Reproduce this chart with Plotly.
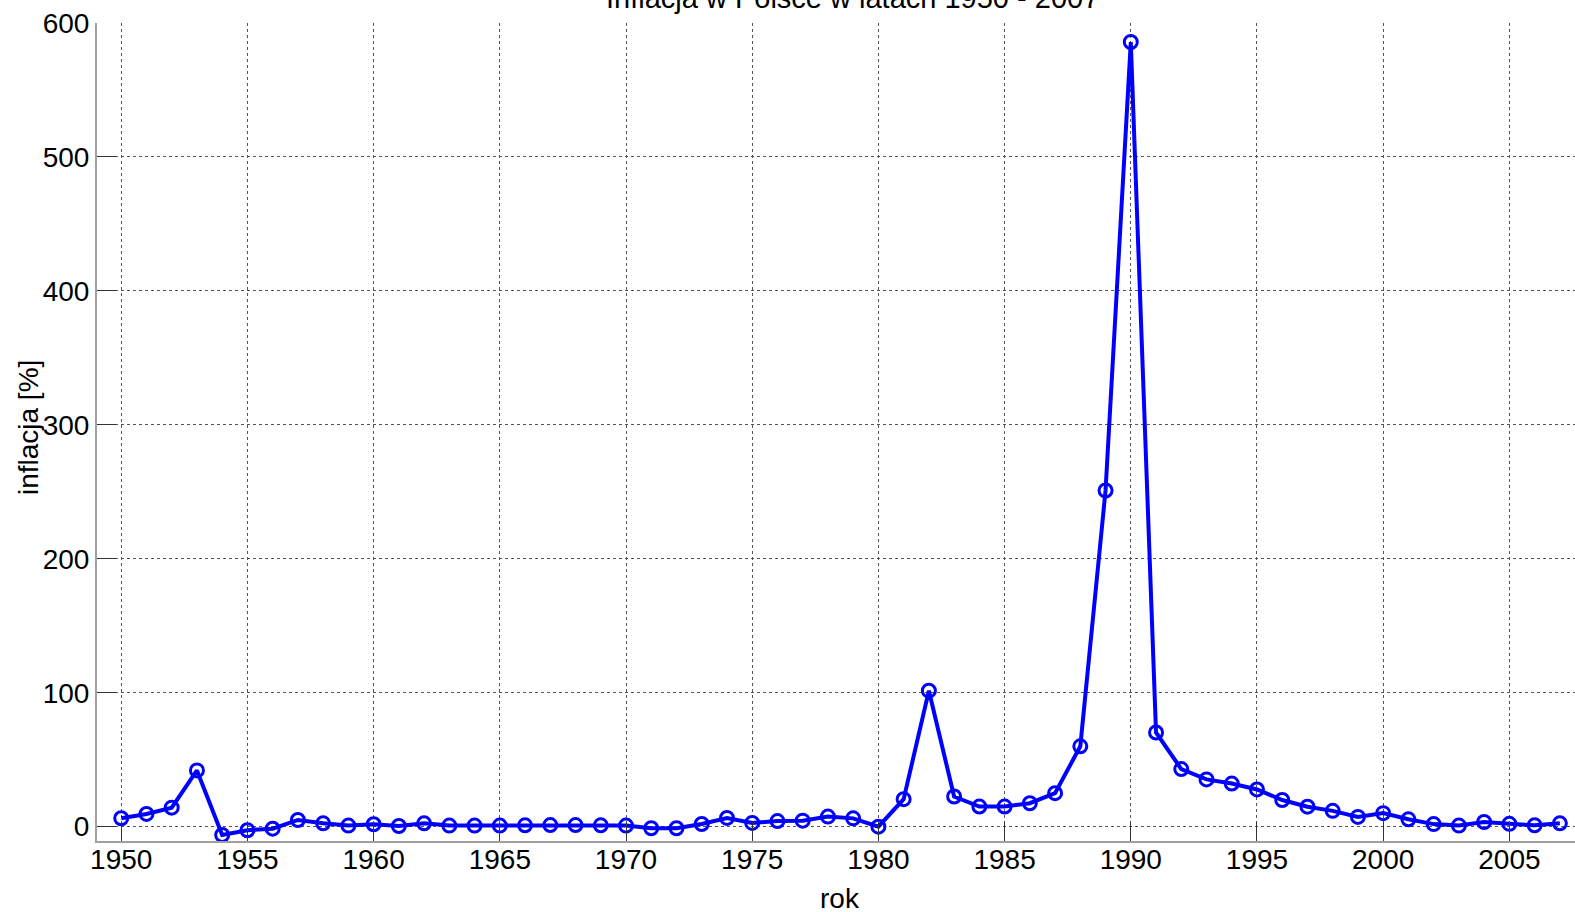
import plotly.graph_objects as go

years = list(range(1950, 2008))
inflation = [
    6.3, 9.5, 14.2, 42.0, -6.2, -2.7, -1.5, 5.0, 2.5, 0.8,
    1.8, 0.5, 2.5, 0.8, 0.8, 0.8, 1.0, 1.2, 1.2, 1.0,
    0.8, -1.2, -1.2, 2.0, 6.5, 2.8, 4.2, 4.5, 7.5, 6.2,
    0.0, 20.5, 101.5, 22.5, 15.0, 15.0, 17.5, 25.0, 60.0, 251.0,
    585.8, 70.3, 43.0, 35.3, 32.2, 27.8, 19.9, 14.9, 11.8, 7.3,
    10.1, 5.5, 1.9, 0.8, 3.5, 2.1, 1.0, 2.5,
]

title_text = "Inflacja w Polsce w latach 1950 - 2007"
x_label = "rok"
y_label = "inflacja [%]"
x_ticks = list(range(1950, 2010, 5))
y_ticks = [0, 100, 200, 300, 400, 500, 600]

fig = go.Figure()
fig.add_trace(go.Scatter(
    x=years, y=inflation, mode="lines+markers",
    line=dict(color="#0000ff", width=4),
    marker=dict(symbol="circle-open", size=13, color="#0000ff",
                line=dict(color="#0000ff", width=3)),
    showlegend=False,
))

font_family = "Liberation Sans, Arial, sans-serif"
axis_common = dict(
    showline=True, linecolor="#a0a0a0", linewidth=2, mirror=False,
    showgrid=True, gridcolor="#555555", gridwidth=1, griddash="dot",
    ticks="inside", ticklen=19, tickcolor="#333333", tickwidth=1,
    tickfont=dict(family=font_family, size=28, color="black"),
    zeroline=False, automargin=False,
)

fig.update_layout(
    width=1575, height=912,
    paper_bgcolor="white", plot_bgcolor="white",
    margin=dict(l=97, r=0, t=23, b=71),
    xaxis=dict(range=[1949.04, 2007.6], tickvals=x_ticks, ticklabelstandoff=-8,
               **axis_common),
    yaxis=dict(range=[-10.7, 600], tickvals=y_ticks, **axis_common),
    annotations=[
        dict(text=title_text, xref="paper", yref="paper", x=0.5115, y=1.031,
             xanchor="center", yanchor="middle", showarrow=False,
             font=dict(family=font_family, size=29, color="black")),
        dict(text=x_label, xref="paper", yref="paper", x=0.5027, y=-0.0697,
             xanchor="center", yanchor="middle", showarrow=False,
             font=dict(family=font_family, size=28, color="black")),
        dict(text=y_label, xref="paper", yref="paper", x=-0.0467, y=0.506,
             xanchor="center", yanchor="middle", showarrow=False, textangle=-90,
             font=dict(family=font_family, size=28, color="black")),
    ],
)

fig.write_html("out.html", config={"displayModeBar": False})

with open("out.html", "r", encoding="utf-8") as f:
    html = f.read()
html = html.replace(
    "<head>",
    "<head><style>html,body{margin:0;padding:0;overflow:hidden;}</style>",
    1,
)
with open("out.html", "w", encoding="utf-8") as f:
    f.write(html)
